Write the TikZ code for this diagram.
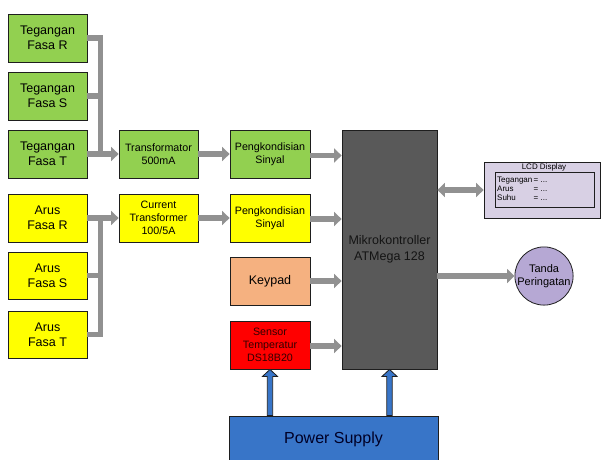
\documentclass[tikz,border=0pt]{standalone}
\usepackage{fontspec}
\setmainfont{Liberation Sans}
\usetikzlibrary{arrows.meta,calc}
\definecolor{cgreen}{RGB}{146,208,80}
\definecolor{cyellow}{RGB}{255,255,0}
\definecolor{cpeach}{RGB}{245,177,128}
\definecolor{cred}{RGB}{255,0,0}
\definecolor{cmcu}{RGB}{89,89,89}
\definecolor{clcd}{RGB}{216,208,228}
\definecolor{ccirc}{RGB}{182,168,212}
\definecolor{cblue}{RGB}{56,117,200}
\definecolor{cgray}{RGB}{145,145,145}
\definecolor{cborder}{RGB}{30,30,30}
\definecolor{cmcutext}{RGB}{20,20,20}
\tikzset{
  box/.style={draw=cborder, line width=0.8pt, align=center, inner sep=0pt},
  bigtxt/.style={font=\fontsize{12.5}{15.5}\selectfont},
  smalltxt/.style={font=\fontsize{10.7}{13}\selectfont},
  sbox/.style={box, minimum width=79pt, minimum height=48pt},
  grayline/.style={draw=cgray, line width=5.5pt, line join=miter},
  grayarrow/.style={grayline, -{Triangle[width=14pt,length=7.5pt]}},
  graydarrow/.style={grayline, {Triangle[width=14pt,length=7.5pt]}-{Triangle[width=14pt,length=7.5pt]}},
  bluearrow/.style={draw=cborder, fill=cblue, line width=0.8pt, line join=miter},
}
\begin{document}
\begin{tikzpicture}[x=1pt,y=-1pt]
\useasboundingbox (0,0) rectangle (601,459);
\clip (0,0) rectangle (601,459);
% voltage phases
\node[sbox, bigtxt, fill=cgreen] (vR) at (47.5,38) {Tegangan\\Fasa R};
\node[sbox, bigtxt, fill=cgreen] (vS) at (47.5,96) {Tegangan\\Fasa S};
\node[sbox, bigtxt, fill=cgreen] (vT) at (47.5,154) {Tegangan\\Fasa T};
\node[sbox, smalltxt, fill=cgreen] (trafo) at (158.5,154) {Transformator\\500mA};
\node[sbox, smalltxt, fill=cgreen, minimum width=80pt] (pk1) at (270,154) {Pengkondisian\\Sinyal};
% current phases
\node[sbox, bigtxt, fill=cyellow] (aR) at (47.5,218) {Arus\\Fasa R};
\node[sbox, bigtxt, fill=cyellow, minimum height=47pt] (aS) at (47.5,275.5) {Arus\\Fasa S};
\node[sbox, bigtxt, fill=cyellow, minimum height=47pt] (aT) at (47.5,334.5) {Arus\\Fasa T};
\node[sbox, smalltxt, fill=cyellow] (ct) at (158.5,218) {Current\\Transformer\\100/5A};
\node[sbox, smalltxt, fill=cyellow, minimum width=80pt] (pk2) at (270,218) {Pengkondisian\\Sinyal};
\node[sbox, bigtxt, fill=cpeach, minimum width=80pt] (key) at (270,281) {Keypad};
\node[sbox, smalltxt, fill=cred, minimum width=80pt, text=black!80!red] (sensor) at (270,345) {Sensor\\Temperatur\\DS18B20};
% MCU
\node[box, bigtxt, fill=cmcu, minimum width=95pt, minimum height=239pt, text=cmcutext] (mcu) at (389.5,249.5) {Mikrokontroller\\ATMega 128};
% LCD
\node[box, fill=clcd, minimum width=116pt, minimum height=56pt] (lcd) at (542,190) {};
\node[font=\fontsize{8}{9.3}\selectfont, inner sep=0pt] (lcdtitle) at (544,167) {LCD Display};
\node[draw=cborder, line width=0.9pt, minimum width=99pt, minimum height=35pt, inner sep=0pt] (lcdin) at (544.5,189.5) {};
\node[font=\fontsize{8}{9.3}\selectfont, anchor=west, inner sep=0pt, align=left] (lcdtxt) at (497,190) {%
\begin{tabular}{@{}l@{\,}l@{}}Tegangan&= ...\\[-0.3pt] Arus&= ...\\[-0.3pt] Suhu&= ...\end{tabular}};
% Tanda
\node[circle, draw=cborder, line width=0.8pt, fill=ccirc, minimum size=57pt, inner sep=0pt, align=center, font=\fontsize{11}{13.3}\selectfont] (tanda) at (544,276) {Tanda\\Peringatan};
% gray buses
\coordinate (vbus) at (100.5,0);
\coordinate (abus) at (100.5,0);
\draw[grayline] (vR.east) -| (vbus |- vT.east);
\draw[grayline] (vS.east) -- (vS.east -| vbus);
\draw[grayarrow] (vT.east) -- (trafo.west);
\draw[grayline] (aT.east) -| (abus |- aR.east);
\draw[grayline] (aS.east) -- (aS.east -| abus);
\draw[grayarrow] (aR.east) -- (ct.west);
\draw[grayarrow] (trafo.east) -- (pk1.west);
\draw[grayarrow] (ct.east) -- (pk2.west);
\draw[grayarrow] ([yshift=-1.5pt]pk1.east) -- ([yshift=-1.5pt]pk1.east -| mcu.west);
\draw[grayarrow] ([yshift=-1pt]pk2.east) -- ([yshift=-1pt]pk2.east -| mcu.west);
\draw[grayarrow] (key.east) -- (key.east -| mcu.west);
\draw[grayarrow] ([yshift=-1pt]sensor.east) -- ([yshift=-1pt]sensor.east -| mcu.west);
\draw[graydarrow] (mcu.east |- lcd.west) -- (lcd.west);
\draw[grayarrow] (mcu.east |- tanda.west) -- (tanda.west);
% power supply
\node[box, fill=cblue, minimum width=209pt, minimum height=46pt, font=\fontsize{16}{19}\selectfont, text=black!85!blue] (power) at (333.5,439) {Power Supply};
% blue arrows
\draw[bluearrow] (sensor.south) -- ++(7.5,7) -- ++(-4.8,0) -- ($(sensor.south|-power.north)+(2.7,0)$) -- ($(sensor.south|-power.north)+(-2.7,0)$) -- ($(sensor.south)+(-2.7,7)$) -- ++(-4.8,0) -- cycle;
\draw[bluearrow] (mcu.south) -- ++(7.5,7) -- ++(-4.8,0) -- ($(mcu.south|-power.north)+(2.7,0)$) -- ($(mcu.south|-power.north)+(-2.7,0)$) -- ($(mcu.south)+(-2.7,7)$) -- ++(-4.8,0) -- cycle;
\end{tikzpicture}
\end{document}
